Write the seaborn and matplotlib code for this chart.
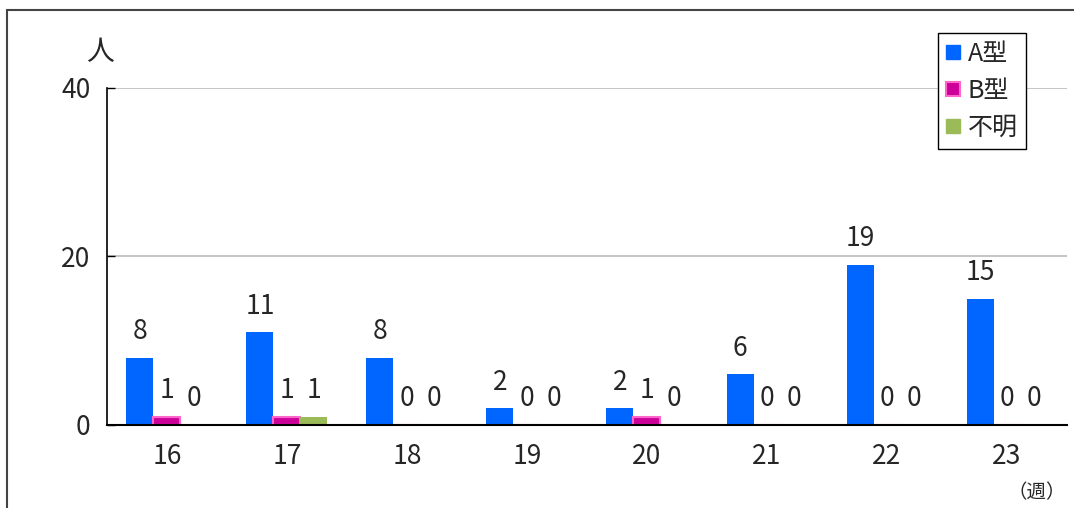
import matplotlib
matplotlib.use("Agg")
import matplotlib.pyplot as plt
import seaborn as sns
import pandas as pd
from matplotlib.lines import Line2D
from matplotlib.patches import Rectangle

# データ
weeks = ["16", "17", "18", "19", "20", "21", "22", "23"]
type_a = [8, 11, 8, 2, 2, 6, 19, 15]
type_b = [1, 1, 0, 0, 1, 0, 0, 0]
unknown = [0, 1, 0, 0, 0, 0, 0, 0]
series_names = ["A型", "B型", "不明"]
colors = ["#0066FF", "#CC0099", "#9BBB59"]

df = pd.DataFrame({
    "week": weeks * 3,
    "count": type_a + type_b + unknown,
    "type": [series_names[0]] * 8 + [series_names[1]] * 8 + [series_names[2]] * 8,
})

sns.set_style("white")
plt.rcParams["font.family"] = ["Noto Sans CJK JP", "DejaVu Sans"]

fig = plt.figure(figsize=(10.74, 5.08), dpi=100)
ax = fig.add_axes([0.0996, 0.1634, 0.8939, 0.6634])

sns.barplot(data=df, x="week", y="count", hue="type", palette=colors,
            width=0.675, saturation=1, ax=ax, legend=False, linewidth=0)

# B型の枠線
for bar in ax.containers[1]:
    bar.set_edgecolor("#FF66CC")
    bar.set_linewidth(1.5)

for c in ax.containers:
    ax.bar_label(c, padding=9, fontsize=19)

ax.set_ylim(0, 40)
ax.set_xlim(-0.5, 7.5)
ax.set_yticks([0, 20, 40])
ax.yaxis.grid(True, color="#BBBBBB", linewidth=1.2)
ax.set_axisbelow(True)
ax.set_xlabel("")
ax.set_ylabel("")

for s in ["top", "right"]:
    ax.spines[s].set_visible(False)
ax.spines["left"].set_color("black")
ax.spines["bottom"].set_color("black")
ax.spines["left"].set_linewidth(1.2)
ax.spines["bottom"].set_linewidth(1.5)

ax.set_xticks(range(8))
ax.set_xticklabels(weeks)
ax.set_xticks([i - 0.5 for i in range(9)], minor=True)
ax.tick_params(axis="x", which="major", length=0, pad=13, labelsize=19)
ax.tick_params(axis="x", which="minor", direction="in", length=8, width=1, color="black")
ax.tick_params(axis="y", direction="in", length=6, width=1, color="black", labelsize=19, pad=12,
               left=True)

fig.text(0.0935, 0.897, "人", fontsize=20, ha="center", va="center")
fig.text(0.993, 0.03, "（週）", fontsize=14, ha="right", va="center")

handles = [Line2D([], [], marker="s", linestyle="", markersize=10,
                  markerfacecolor=colors[0], markeredgecolor=colors[0]),
           Line2D([], [], marker="s", linestyle="", markersize=10,
                  markerfacecolor=colors[1], markeredgecolor="#FF66CC", markeredgewidth=1.5),
           Line2D([], [], marker="s", linestyle="", markersize=10,
                  markerfacecolor=colors[2], markeredgecolor=colors[2])]
leg = fig.legend(handles, series_names, loc="upper left", bbox_to_anchor=(938 / 1074, 1 - 33 / 508),
                 fontsize=18, frameon=True, fancybox=False, framealpha=1, edgecolor="black",
                 handlelength=0.6, handletextpad=0.3, borderpad=0.3, labelspacing=0.45,
                 borderaxespad=0)
leg.get_frame().set_linewidth(1.0)

# 外枠
fig.add_artist(Rectangle((7 / 1074, -0.1), 1.2, 1.08, transform=fig.transFigure,
                         fill=False, edgecolor="#444444", linewidth=1.5))

fig.savefig("out.png", dpi=100)
